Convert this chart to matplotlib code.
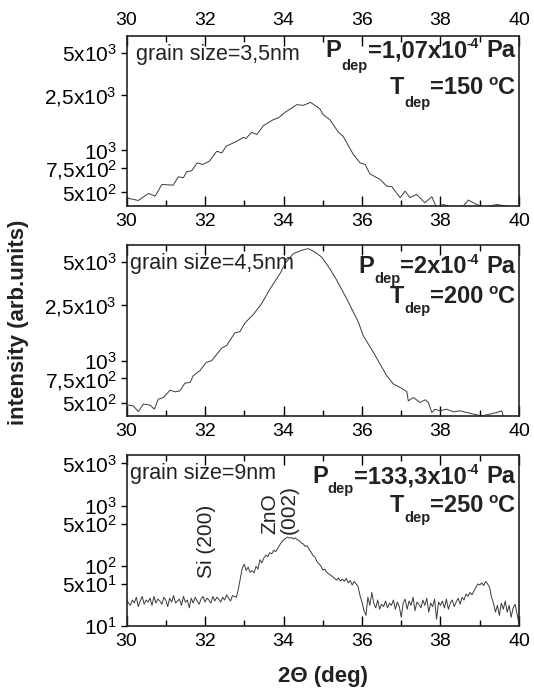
import numpy as np
import matplotlib
matplotlib.use("Agg")
import matplotlib.pyplot as plt
from matplotlib.ticker import FixedLocator, NullLocator, MultipleLocator
from matplotlib.transforms import offset_copy

plt.rcParams['font.family'] = ['Liberation Sans', 'DejaVu Sans']
plt.rcParams['mathtext.fontset'] = 'custom'
plt.rcParams['mathtext.rm'] = 'Liberation Sans'
plt.rcParams['mathtext.it'] = 'Liberation Sans:italic'
plt.rcParams['mathtext.bf'] = 'Liberation Sans:bold'

# panel 1: 3,5 nm film
theta1 = [30.0, 30.30, 30.56, 30.73, 30.90, 31.19, 31.32, 31.45, 31.53, 31.66,
          31.80, 31.94, 32.11, 32.30, 32.43, 32.54, 32.81, 32.98, 33.04, 33.19,
          33.32, 33.49, 33.74, 33.87, 34.04, 34.34, 34.50, 34.69, 34.93, 35.01,
          35.18, 35.40, 35.52, 35.78, 35.95, 36.08, 36.20, 36.46, 36.63, 36.76,
          36.97, 37.10, 37.22, 37.39, 37.60, 37.78, 37.90, 38.07, 38.29, 38.58,
          38.71, 38.92, 39.13, 39.43, 39.69, 39.85, 40.0]
int1 = [457, 438, 492, 471, 570, 564, 647, 637, 703, 715,
        815, 793, 837, 986, 961, 1072, 1163, 1241, 1216, 1348,
        1298, 1506, 1661, 1709, 1874, 2127, 2103, 2208, 1982, 1804,
        1661, 1348, 1262, 934, 815, 793, 680, 620, 555, 550,
        459, 511, 459, 484, 422, 466, 389, 410, 391, 399,
        441, 410, 391, 410, 399, 391, 385]

# panel 2: 4,5 nm film
theta2 = [30.05, 30.17, 30.30, 30.43, 30.60, 30.71, 30.81, 30.94, 31.11, 31.24,
          31.36, 31.49, 31.62, 31.70, 31.87, 32.03, 32.17, 32.43, 32.55, 32.76,
          32.89, 33.02, 33.23, 33.44, 33.66, 33.91, 34.04, 34.25, 34.46, 34.63,
          34.80, 34.97, 35.18, 35.36, 35.61, 35.91, 36.03, 36.29, 36.63, 36.80,
          36.97, 37.14, 37.18, 37.31, 37.48, 37.61, 37.69, 37.78, 37.86, 37.99,
          38.16, 38.33, 38.50, 38.67, 38.84, 39.05, 39.26, 39.43, 39.56, 39.60]
int2 = [484, 479, 436, 492, 484, 453, 533, 548, 618, 601,
        611, 693, 701, 782, 849, 972, 1000, 1231, 1279, 1574,
        1607, 1854, 2123, 2531, 3235, 4139, 4875, 5741, 6058, 6227,
        5891, 5431, 4487, 3707, 2746, 1871, 1505, 1146, 781, 683,
        646, 605, 519, 548, 505, 528, 505, 429, 453, 441,
        453, 434, 441, 429, 418, 406, 418, 429, 441, 406]

# panel 3: 9 nm film, step 0.05 deg, one row = 0.5 deg
int3 = [28, 24, 22, 27, 24, 30, 21, 26, 31, 23,        # 30.0
        27, 25, 29, 22, 31, 24, 28, 26, 23, 30,        # 30.5
        27, 21, 29, 25, 32, 24, 26, 28, 22, 31,        # 31.0
        25, 27, 20, 29, 24, 30, 26, 23, 28, 31,        # 31.5
        25, 29, 27, 24, 31, 26, 30, 28, 25, 30,        # 32.0
        27, 33, 29, 26, 32, 31, 30, 41, 62, 92,        # 32.5
        106, 84, 95, 78, 83, 76, 98, 88, 126, 112,     # 33.0
        135, 150, 142, 165, 158, 180, 172, 195, 220, 245,  # 33.5
        270, 285, 300, 288, 295, 278, 290, 270, 262, 240,  # 34.0
        232, 210, 215, 190, 170, 148, 140, 118, 108, 100,  # 34.5
        85, 88, 78, 74, 70, 66, 62, 58, 63, 56,        # 35.0
        60, 55, 62, 52, 57, 48, 55, 50, 45, 32,        # 35.5
        25, 18, 15, 30, 22, 36, 24, 20, 27, 19,        # 36.0
        23, 21, 26, 20, 24, 22, 27, 19, 25, 21,        # 36.5
        14, 24, 28, 19, 26, 22, 30, 18, 25, 23,        # 37.0
        20, 27, 22, 29, 17, 24, 21, 28, 13, 25,        # 37.5
        22, 26, 20, 28, 19, 24, 27, 21, 25, 29,        # 38.0
        23, 30, 27, 34, 31, 36, 33, 38, 44, 50,        # 38.5
        48, 52, 47, 55, 50, 44, 30, 24, 17, 22,        # 39.0
        15, 24, 19, 26, 17, 22, 14, 20, 23, 16,        # 39.5
        11]                                            # 40.0
theta3 = np.linspace(30, 40, len(int3))

ticks_a = [500, 750, 1000, 2500, 5000]
labels_a = ['5x10$^2$', '7,5x10$^2$', '10$^3$', '2,5x10$^3$', '5x10$^3$']
ticks_b = [10, 50, 100, 500, 1000, 5000]
labels_b = ['10$^1$', '5x10$^1$', '10$^2$', '5x10$^2$', '10$^3$', '5x10$^3$']

grain = ['grain size=3,5nm', 'grain size=4,5nm', 'grain size=9nm']
pdep = ['1,07x10', '2x10', '133,3x10']
tdep = ['150', '200', '250']

fig = plt.figure(figsize=(5.34, 6.88), dpi=100)
L, W = 0.2369, 0.735
ax1 = fig.add_axes([L, 0.7006, W, 0.2471])
ax2 = fig.add_axes([L, 0.3953, W, 0.2485])
ax3 = fig.add_axes([L, 0.0901, W, 0.2485])
renderer = fig.canvas.get_renderer()

txt = '#222222'
lc = '#3a3a3a'
ax1.plot(theta1, int1, color=lc, lw=0.7)
ax2.plot(theta2, int2, color=lc, lw=0.7)
ax3.plot(theta3, int3, color=lc, lw=0.7)

ax1.set_ylim(400, 6600)
ax2.set_ylim(405, 6600)
ax3.set_ylim(10, 6900)


def right_line(ax, y, pieces):
    # pieces: (text, fontsize, vertical shift px, gap on its left px), placed right to left
    shift = 0
    for s, size, dy, gap in reversed(pieces):
        tr = offset_copy(ax.transAxes, fig=fig, x=-shift, y=dy, units='dots')
        t = ax.text(0.99, y, s, transform=tr, fontsize=size, fontweight='bold',
                    ha='right', va='baseline', color=txt)
        shift += t.get_window_extent(renderer).width + gap


p_y = [0.876, 0.834, 0.834]
t_y = [0.66, 0.66, 0.668]
g_x = [0.023, 0.01, 0.01]
drops = [13, 10, 10]

for i, ax in enumerate([ax1, ax2, ax3]):
    ax.set_yscale('log')
    ax.set_xlim(30, 40)
    ax.xaxis.set_major_locator(MultipleLocator(2))
    ax.xaxis.set_minor_locator(MultipleLocator(1))
    if i < 2:
        ax.yaxis.set_major_locator(FixedLocator(ticks_a))
        ax.set_yticklabels(labels_a)
    else:
        ax.yaxis.set_major_locator(FixedLocator(ticks_b))
        ax.set_yticklabels(labels_b)
    ax.yaxis.set_minor_locator(NullLocator())
    ax.tick_params(axis='x', which='both', direction='in', top=True, labelsize=14,
                   width=1.0, pad=5)
    ax.tick_params(axis='x', which='major', length=7)
    ax.tick_params(axis='x', which='minor', length=4.5)
    ax.tick_params(axis='y', direction='out', length=4, width=1.0, labelsize=15, pad=3)
    for s in ax.spines.values():
        s.set_linewidth(1.2)
        s.set_color(txt)

    ax.text(g_x[i], 0.89, grain[i], transform=ax.transAxes, fontsize=15.5,
            ha='left', va='center', color=txt)
    right_line(ax, p_y[i], [('P', 17, 0, 0), ('dep', 10.5, -drops[i], 0),
                            ('=' + pdep[i], 17, 0, 0), ('-4', 10, 9, 0),
                            ('Pa', 17, 0, 7)])
    right_line(ax, t_y[i], [('T', 17, 0, 0), ('dep', 10.5, -drops[i], 0),
                            ('=' + tdep[i], 17, 0, 0), ('o', 11, 9, 5),
                            ('C', 17, 0, 0)])

ax1.tick_params(axis='x', labeltop=True)

# peak labels
ax3.text(32.05, 63, 'Si (200)', rotation=90, fontsize=15, ha='center', va='bottom',
         color=txt)
ax3.text(33.9, 336, 'ZnO\n(002)', rotation=90, fontsize=15, ha='center', va='bottom',
         multialignment='left', linespacing=1.0, color=txt)

fig.text(0.034, 0.532, 'intensity (arb.units)', rotation=90, fontsize=16,
         fontweight='bold', ha='center', va='center', color=txt)
fig.text(0.604, 0.017, '2\u0398 (deg)', fontsize=16, fontweight='bold',
         ha='center', va='center', color=txt)

fig.savefig('out.png', dpi=100)
